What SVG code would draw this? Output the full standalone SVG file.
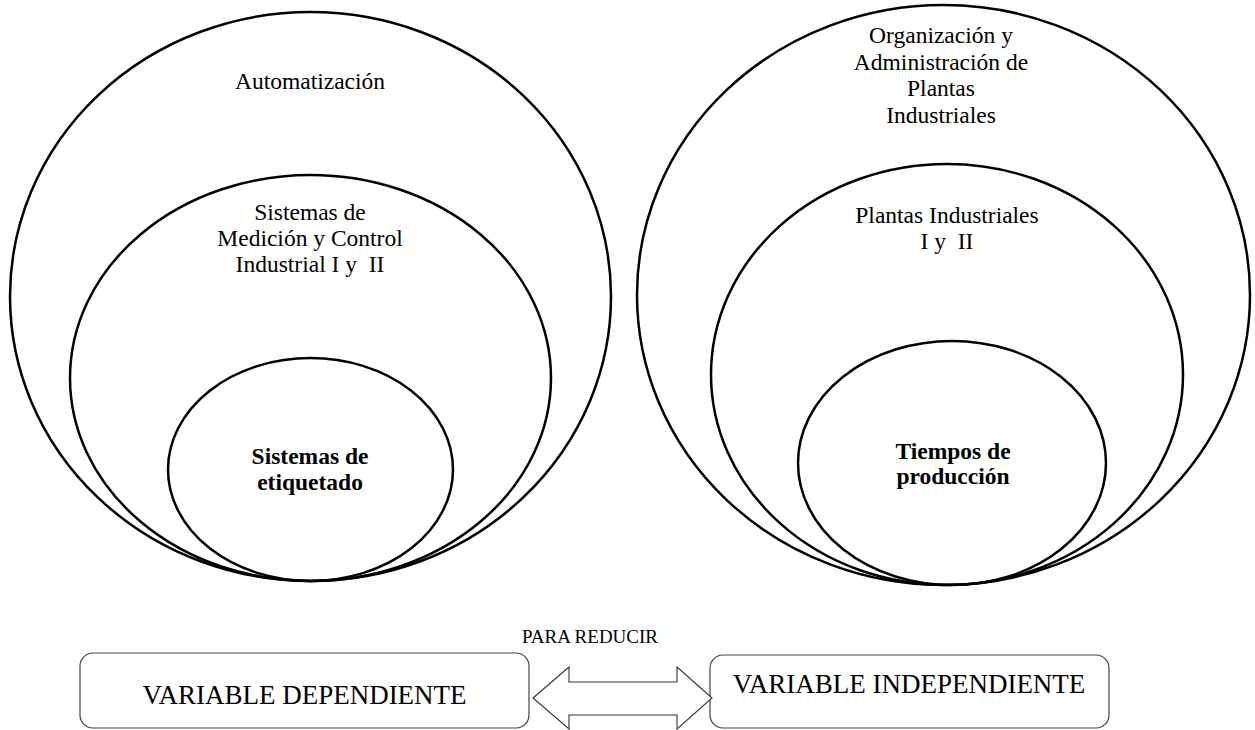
<svg xmlns="http://www.w3.org/2000/svg" width="1255" height="730" viewBox="0 0 1255 730">
<style>
.c{fill:none;stroke:#000;stroke-width:2.5}
.t{font-family:"Liberation Serif","Times New Roman",serif;font-size:23.5px;fill:#000;text-anchor:middle;white-space:pre}
.b{font-weight:bold}
.box{fill:#fff;stroke:#444;stroke-width:1.2}
.bt{font-family:"Liberation Serif","Times New Roman",serif;font-size:27px;fill:#000;text-anchor:middle}
</style>
<rect width="1255" height="730" fill="#fff"/>
<g id="automatizacion">
<ellipse class="c" cx="310.5" cy="296.5" rx="300.5" ry="284.5"/>
<text class="t" x="310" y="89">Automatización</text>
</g>
<g id="medicion-control">
<ellipse class="c" cx="310.5" cy="378" rx="240.5" ry="203"/>
<text class="t" x="310" y="220">Sistemas de</text>
<text class="t" x="310" y="246">Medición y Control</text>
<text class="t" x="310" y="272">Industrial I y  II</text>
</g>
<g id="etiquetado">
<ellipse class="c" cx="310.5" cy="469.5" rx="142.5" ry="111.5"/>
<text class="t b" x="310" y="464">Sistemas de</text>
<text class="t b" x="310" y="490">etiquetado</text>
</g>
<g id="organizacion">
<ellipse class="c" cx="943.5" cy="295" rx="306.5" ry="290"/>
<text class="t" x="941" y="43">Organización y</text>
<text class="t" x="941" y="69.5">Administración de</text>
<text class="t" x="941" y="96">Plantas</text>
<text class="t" x="941" y="122.5">Industriales</text>
</g>
<g id="plantas">
<ellipse class="c" cx="947" cy="374.5" rx="236" ry="210.5"/>
<text class="t" x="947" y="223">Plantas Industriales</text>
<text class="t" x="947" y="249">I y  II</text>
</g>
<g id="tiempos">
<ellipse class="c" cx="952" cy="463" rx="154" ry="122"/>
<text class="t b" x="953" y="459">Tiempos de</text>
<text class="t b" x="953" y="484">producción</text>
</g>
<text class="t" x="590" y="643" style="font-size:19px">PARA REDUCIR</text>
<g id="var-dep">
<rect class="box" x="80" y="653" width="449" height="75" rx="13"/>
<text class="bt" x="304.5" y="704">VARIABLE DEPENDIENTE</text>
</g>
<g id="var-indep">
<rect class="box" x="710" y="655" width="399" height="73" rx="13"/>
<text class="bt" x="909" y="693">VARIABLE INDEPENDIENTE</text>
</g>
<g id="connectors">
<polygon points="533,698 569,667 569,682 677,682 677,667 712,698 677,729 677,715 569,715 569,729" fill="#fff" stroke="#333" stroke-width="1.1"/>
</g>
</svg>
